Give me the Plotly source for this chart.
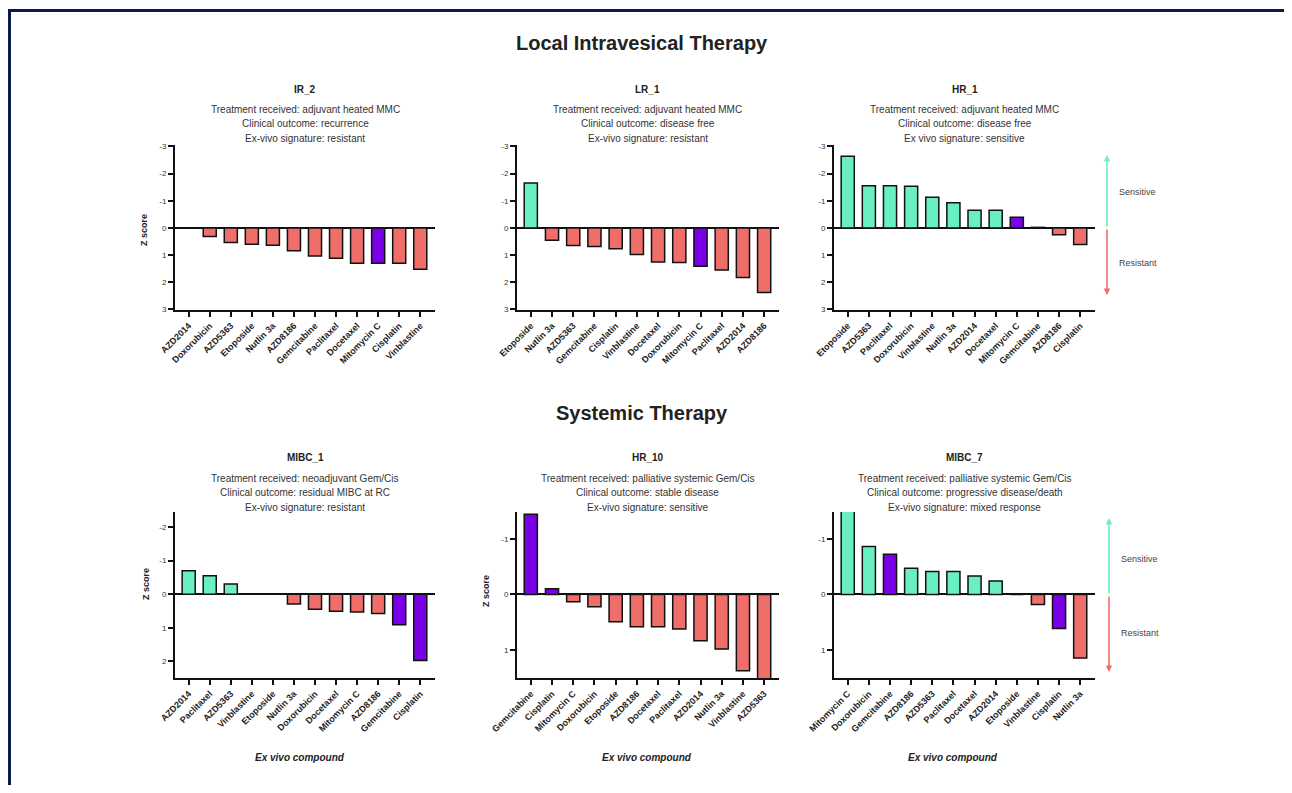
import plotly.graph_objects as go

# ---------------- data ----------------
ir2_drugs = ["AZD2014", "Doxorubicin", "AZD5363", "Etoposide", "Nutlin 3a", "AZD8186",
             "Gemcitabine", "Paclitaxel", "Docetaxel", "Mitomycin C", "Cisplatin", "Vinblastine"]
ir2_z = [0.0, 0.32, 0.54, 0.6, 0.64, 0.84, 1.03, 1.12, 1.3, 1.3, 1.3, 1.52]

lr1_drugs = ["Etoposide", "Nutlin 3a", "AZD5363", "Gemcitabine", "Cisplatin", "Vinblastine",
             "Docetaxel", "Doxorubicin", "Mitomycin C", "Paclitaxel", "AZD2014", "AZD8186"]
lr1_z = [-1.65, 0.45, 0.65, 0.68, 0.77, 0.98, 1.25, 1.27, 1.41, 1.55, 1.82, 2.38]

hr1_drugs = ["Etoposide", "AZD5363", "Paclitaxel", "Doxorubicin", "Vinblastine", "Nutlin 3a",
             "AZD2014", "Docetaxel", "Mitomycin C", "Gemcitabine", "AZD8186", "Cisplatin"]
hr1_z = [-2.64, -1.55, -1.55, -1.53, -1.13, -0.93, -0.65, -0.65, -0.39, -0.02, 0.25, 0.61]

mibc1_drugs = ["AZD2014", "Paclitaxel", "AZD5363", "Vinblastine", "Etoposide", "Nutlin 3a",
               "Doxorubicin", "Docetaxel", "Mitomycin C", "AZD8186", "Gemcitabine", "Cisplatin"]
mibc1_z = [-0.7, -0.55, -0.3, 0.0, 0.0, 0.29, 0.45, 0.51, 0.53, 0.58, 0.91, 1.98]

hr10_drugs = ["Gemcitabine", "Cisplatin", "Mitomycin C", "Doxorubicin", "Etoposide", "AZD8186",
              "Docetaxel", "Paclitaxel", "AZD2014", "Nutlin 3a", "Vinblastine", "AZD5363"]
hr10_z = [-1.44, -0.1, 0.13, 0.22, 0.49, 0.58, 0.58, 0.62, 0.83, 0.98, 1.37, 1.52]

mibc7_drugs = ["Mitomycin C", "Doxorubicin", "Gemcitabine", "AZD8186", "AZD5363", "Paclitaxel",
               "Docetaxel", "AZD2014", "Etoposide", "Vinblastine", "Cisplatin", "Nutlin 3a"]
mibc7_z = [-1.5, -0.86, -0.72, -0.47, -0.41, -0.41, -0.33, -0.24, 0.0, 0.18, 0.61, 1.14]

panel_names = ["IR_2", "LR_1", "HR_1", "MIBC_1", "HR_10", "MIBC_7"]
panel_lines = [
    ["Treatment received: adjuvant heated MMC", "Clinical outcome: recurrence", "Ex-vivo signature: resistant"],
    ["Treatment received: adjuvant heated MMC", "Clinical outcome: disease free", "Ex-vivo signature: resistant"],
    ["Treatment received: adjuvant heated MMC", "Clinical outcome: disease free", "Ex vivo signature: sensitive"],
    ["Treatment received: neoadjuvant Gem/Cis", "Clinical outcome: residual MIBC at RC", "Ex-vivo signature: resistant"],
    ["Treatment received: palliative systemic Gem/Cis", "Clinical outcome: stable disease", "Ex-vivo signature: sensitive"],
    ["Treatment received: palliative systemic Gem/Cis", "Clinical outcome: progressive disease/death", "Ex-vivo signature: mixed response"],
]
highlight = [["Mitomycin C"]] * 3 + [["Gemcitabine", "Cisplatin"]] * 3
y_ticks = [[-3, -2, -1, 0, 1, 2, 3]] * 3 + [[-2, -1, 0, 1, 2], [-1, 0, 1], [-1, 0, 1]]
y_ranges = [[3.02, -3.05]] * 3 + [[2.5, -2.45], [1.5, -1.48], [1.5, -1.48]]

drugs_all = [ir2_drugs, lr1_drugs, hr1_drugs, mibc1_drugs, hr10_drugs, mibc7_drugs]
z_all = [ir2_z, lr1_z, hr1_z, mibc1_z, hr10_z, mibc7_z]

# ---------------- style ----------------
TEAL = "#68F0C4"
SALMON = "#F06E6A"
PURPLE = "#7A00E6"
FONT = "Liberation Sans"
W, H = 1276, 777


def xp(px):
    return (px - 8) / W


def yp(py):
    return 1 - (py - 8) / H


col_px = [(175, 435), (517, 779), (834, 1095)]
row_px = [(145, 310), (512, 678)]

fig = go.Figure()
annotations = []


def note(x, y, text, size, color="#222", **kw):
    d = dict(x=xp(x), y=yp(y), xref="paper", yref="paper", text=text, showarrow=False,
             xanchor="center", yanchor="middle", font=dict(family=FONT, size=size, color=color))
    d.update(kw)
    annotations.append(d)


for i in range(6):
    r, c = divmod(i, 3)
    k = "" if i == 0 else str(i + 1)
    drugs, z = drugs_all[i], z_all[i]
    colors = []
    for d, v in zip(drugs, z):
        if d in highlight[i]:
            colors.append(PURPLE)
        elif v < 0:
            colors.append(TEAL)
        else:
            colors.append(SALMON)
    fig.add_trace(go.Bar(x=drugs, y=z, xaxis="x" + k, yaxis="y" + k,
                         marker=dict(color=colors, line=dict(color="#111", width=1.5)),
                         width=0.62, showlegend=False))
    x0, x1 = col_px[c]
    y0, y1 = row_px[r]
    fig.layout["xaxis" + k] = dict(
        domain=[xp(x0), xp(x1)], anchor="y" + k, type="category",
        range=[-0.65, 11.7], showline=True, linecolor="#111", linewidth=2,
        ticks="outside", ticklen=5, tickwidth=1.5, tickcolor="#111",
        tickangle=-45, tickfont=dict(family=FONT, size=9, color="#222", weight="bold"),
        showgrid=False, fixedrange=True, automargin=False)
    fig.layout["yaxis" + k] = dict(
        domain=[yp(y1), yp(y0)], anchor="x" + k, range=y_ranges[i],
        tickvals=y_ticks[i], ticktext=[str(t) for t in y_ticks[i]],
        showline=True, linecolor="#111", linewidth=2,
        ticks="outside", ticklen=5, tickwidth=1.5, tickcolor="#111",
        tickfont=dict(family=FONT, size=8, color="#333"),
        showgrid=False, zeroline=True, zerolinecolor="#111", zerolinewidth=2,
        fixedrange=True, automargin=False)

    cx = (x0 + x1) / 2
    base = 89 if r == 0 else 458
    note(cx, base, "<b>" + panel_names[i] + "</b>", 10)
    for j, line in enumerate(panel_lines[i]):
        note(cx, base + 20 + 14.5 * j, line, 10, "#333")

# main titles
note(642, 43, "<b>Local Intravesical Therapy</b>", 20)
note(642, 413, "<b>Systemic Therapy</b>", 20)

# y-axis titles
for (x, y) in [(144, 230), (146, 584), (486, 591)]:
    note(x, y, "<b>Z score</b>", 9, textangle=-90)

# x-axis titles
for x in [300, 647, 953]:
    note(x, 757, "<b><i>Ex vivo compound</i></b>", 10)

# sensitive / resistant arrows
for (ax_x, top, mid, bot, ts, tr) in [(1107, 155, 228, 295, 192, 263), (1109, 518, 595, 672, 559, 633)]:
    annotations.append(dict(x=xp(ax_x), y=yp(top), xref="paper", yref="paper", ax=0, ay=mid - top,
                            text="", showarrow=True, arrowhead=2, arrowsize=0.8, arrowwidth=1.6, arrowcolor=TEAL))
    annotations.append(dict(x=xp(ax_x), y=yp(bot), xref="paper", yref="paper", ax=0, ay=mid - bot,
                            text="", showarrow=True, arrowhead=2, arrowsize=0.8, arrowwidth=1.6, arrowcolor=SALMON))
    note(ax_x + 10, ts, "Sensitive", 9, "#444", xanchor="left")
    note(ax_x + 10, tr, "Resistant", 9, "#444", xanchor="left")

shapes = [
    dict(type="line", xref="paper", yref="paper", x0=0, x1=1, y0=yp(10.5), y1=yp(10.5),
         line=dict(color="#0B1A4A", width=3)),
    dict(type="line", xref="paper", yref="paper", x0=xp(9.5), x1=xp(9.5), y0=0, y1=yp(9),
         line=dict(color="#0B1A4A", width=3)),
]

fig.update_layout(width=W, height=H, margin=dict(l=0, r=0, t=0, b=0, autoexpand=False),
                  paper_bgcolor="white", plot_bgcolor="white",
                  annotations=annotations, shapes=shapes, bargap=0.3,
                  font=dict(family=FONT))

fig.write_html("out.html")
